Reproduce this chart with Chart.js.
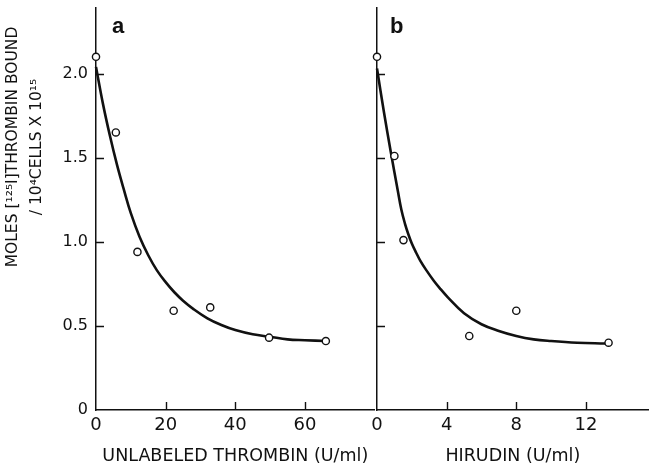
<!DOCTYPE html>
<html><head><meta charset="utf-8">
<script src="https://cdn.jsdelivr.net/npm/chart.js@4"></script>
<style>
html,body{margin:0;padding:0;background:#fff;}
#wrap{position:relative;width:654px;height:463px;overflow:hidden;background:#fff;}
.pane{position:absolute;top:0;}
</style></head><body>
<div id="wrap">
  <div class="pane" style="left:0;width:380px;height:463px;"><canvas id="ca" width="380" height="463"></canvas></div>
  <div class="pane" style="left:360px;width:294px;height:463px;"><canvas id="cb" width="294" height="463"></canvas></div>
</div>
<script>
// ---- data ----
// Panel a: unlabeled thrombin (U/ml)
const thrombinDose   = [0, 5.7, 11.9, 22.3, 32.8, 49.7, 66.0];
const thrombinBound  = [2.10, 1.65, 0.94, 0.59, 0.61, 0.43, 0.41];
const thrombinCurveX = [0, 2, 4, 6, 8, 10, 12.5, 15, 17.5, 20, 22.5, 25, 28, 32, 36, 40, 45, 50, 55, 60, 66];
const thrombinCurveY = [2.04, 1.82, 1.63, 1.46, 1.31, 1.17, 1.03, 0.92, 0.83, 0.76, 0.70, 0.65, 0.60, 0.545, 0.505, 0.475, 0.45, 0.435, 0.42, 0.415, 0.41];
// Panel b: hirudin (U/ml)
const hirudinDose    = [0, 1.0, 1.52, 5.3, 8.0, 13.3];
const hirudinBound   = [2.10, 1.51, 1.01, 0.44, 0.59, 0.40];
const hirudinCurveX  = [0, 0.4, 0.8, 1.2, 1.4, 1.6, 1.8, 2.0, 2.25, 2.5, 2.84, 3.25, 3.6, 4.07, 5.0, 6.0, 7.0, 8.0, 9.0, 10.0, 11.5, 13.1];
const hirudinCurveY  = [2.03, 1.77, 1.53, 1.30, 1.19, 1.11, 1.045, 0.99, 0.935, 0.885, 0.83, 0.77, 0.725, 0.67, 0.575, 0.51, 0.47, 0.44, 0.42, 0.41, 0.40, 0.395];
// ticks
const yTickValues    = [0, 0.5, 1, 1.5, 2];
const yTickLabels    = ['0', '0.5', '1.0', '1.5', '2.0'];
const thrombinTicks  = [0, 20, 40, 60];
const hirudinTicks   = [0, 4, 8, 12];
// texts
const yTitleLines    = ['MOLES [\u00B9\u00B2\u2075I]THROMBIN BOUND', '/ 10\u2074CELLS X 10\u00B9\u2075'];
const xTitleA        = 'UNLABELED THROMBIN (U/ml)';
const xTitleB        = 'HIRUDIN (U/ml)';
const panelLetters   = ['a', 'b'];

const INK = '#111';
const FAM = "'DejaVu Sans', 'Liberation Sans', sans-serif";

const pts = (xs, ys) => xs.map((x, i) => ({x, y: ys[i]}));
const noPad = s => { s.paddingLeft = 0; s.paddingRight = 0; s.paddingTop = 0; s.paddingBottom = 0; };

const decorPlugin = {
  id: 'decor',
  afterDraw(chart, args, o) {
    const {ctx, chartArea: ca} = chart;
    const x = chart.scales.x, y = chart.scales.y;
    ctx.save();
    ctx.strokeStyle = INK; ctx.lineWidth = 1.4;
    ctx.beginPath();
    o.yTicks.forEach(v => { if (v === 0) return; const py = Math.round(y.getPixelForValue(v)) + 0.5; ctx.moveTo(ca.left, py); ctx.lineTo(ca.left + 8, py); });
    o.xTicks.forEach(v => { if (v === 0) return; const px = Math.round(x.getPixelForValue(v)) + 0.5; ctx.moveTo(px, ca.bottom); ctx.lineTo(px, ca.bottom - 8); });
    ctx.stroke();
    ctx.fillStyle = INK;
    ctx.font = "bold 22px 'Liberation Sans', Arial, sans-serif";
    ctx.textBaseline = 'alphabetic'; ctx.textAlign = 'left';
    ctx.fillText(o.letter, ca.left + o.letterDx, 33);
    if (o.yTitle) {
      ctx.font = "15.5px " + FAM;
      ctx.textAlign = 'center'; ctx.textBaseline = 'middle';
      o.yTitle.forEach((line, i) => {
        ctx.save();
        ctx.translate(o.yTitleX[i], o.yTitleY);
        ctx.rotate(-Math.PI / 2);
        ctx.fillText(line, 0, 0);
        ctx.restore();
      });
    }
    ctx.restore();
  }
};

function makeChart(canvas, cfg) {
  return new Chart(canvas, {
    type: 'scatter',
    data: {
      datasets: [
        { data: pts(cfg.dose, cfg.bound), showLine: false, pointStyle: 'circle', pointRadius: 3.6,
          pointBackgroundColor: '#fff', pointBorderColor: INK, pointBorderWidth: 1.4, clip: false },
        { type: 'line', data: pts(cfg.cx, cfg.cy), borderColor: INK, borderWidth: 2.6, pointRadius: 0,
          tension: 0.4, fill: false, clip: false }
      ]
    },
    options: {
      responsive: false, animation: false,
      layout: { padding: cfg.padding },
      plugins: { legend: { display: false }, tooltip: { enabled: false },
        decor: { yTicks: yTickValues, xTicks: cfg.xTicks, letter: cfg.letter, letterDx: cfg.letterDx,
                 yTitle: cfg.yTitle, yTitleX: [13, 37], yTitleY: 147 } },
      scales: {
        x: {
          type: 'linear', position: 'bottom', min: 0, max: cfg.xMax,
          grid: { display: false, drawTicks: false },
          border: { display: true, color: INK, width: 1.5 },
          afterBuildTicks: s => { s.ticks = cfg.xTicks.map(v => ({value: v})); },
          ticks: { color: INK, font: { family: FAM, size: 18 }, padding: 5, autoSkip: false, maxRotation: 0,
                   callback: v => String(v) },
          title: { display: true, text: cfg.xTitle, color: INK, font: { family: FAM, size: 17.5, lineHeight: 1 },
                   padding: { top: 0, bottom: -2 } },
          afterFit: s => { s.height = 53; noPad(s); }
        },
        y: {
          type: 'linear', min: 0, max: 2.39,
          grid: { display: false, drawTicks: false },
          border: { display: true, color: INK, width: 1.5 },
          afterBuildTicks: s => { s.ticks = yTickValues.map(v => ({value: v})); },
          ticks: { display: cfg.showY, color: INK, font: { family: FAM, size: 16 }, padding: 8,
                   callback: v => yTickLabels[yTickValues.indexOf(v)] },
          afterFit: s => { s.width = cfg.yWidth; noPad(s); }
        }
      }
    },
    plugins: [decorPlugin]
  });
}

makeChart(document.getElementById('ca'), {
  dose: thrombinDose, bound: thrombinBound, cx: thrombinCurveX, cy: thrombinCurveY,
  xTicks: thrombinTicks, xMax: 80, xTitle: xTitleA, letter: panelLetters[0], letterDx: 16,
  yTitle: yTitleLines, showY: true, yWidth: 96, padding: { left: 0, right: 3, top: 8, bottom: 0 }
});
makeChart(document.getElementById('cb'), {
  dose: hirudinDose, bound: hirudinBound, cx: hirudinCurveX, cy: hirudinCurveY,
  xTicks: hirudinTicks, xMax: 15.6, xTitle: xTitleB, letter: panelLetters[1], letterDx: 13,
  yTitle: null, showY: false, yWidth: 0, padding: { left: 17, right: 4, top: 8, bottom: 0 }
});
</script>
</body></html>
